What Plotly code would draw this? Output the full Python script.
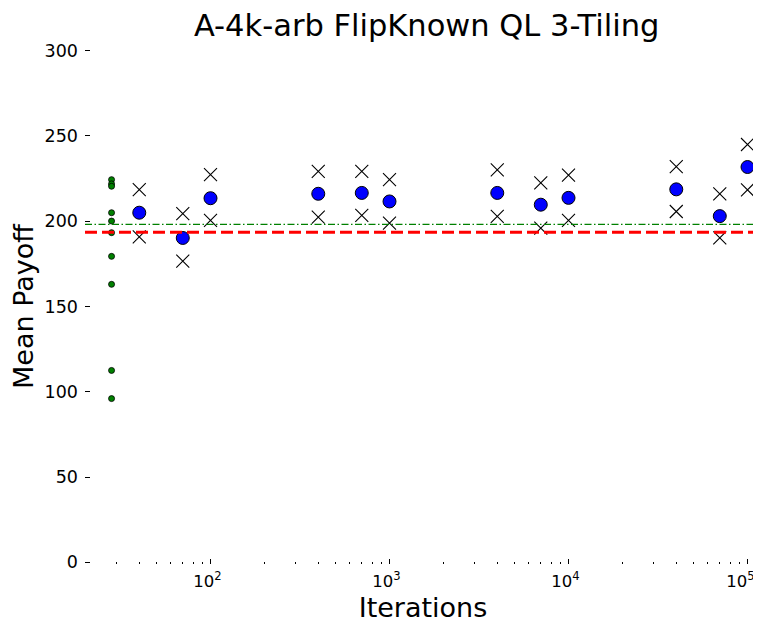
import numpy as np
import plotly.graph_objects as go

# ---- data ----
iterations = [40, 70, 100, 400, 700, 1000, 4000, 7000, 10000, 40000, 70000, 100000]
mean_payoff = [205.0, 190.2, 213.5, 216.1, 216.6, 211.6, 216.6, 209.7, 213.7, 218.7, 203.0, 231.8]
upper_payoff = [218.6, 204.4, 227.3, 229.2, 229.2, 224.4, 230.1, 222.5, 227.1, 232.0, 216.1, 245.0]
lower_payoff = [190.8, 176.6, 200.5, 202.4, 203.4, 198.9, 202.8, 196.0, 200.5, 205.7, 190.2, 218.4]

baseline_x = 28
baseline_payoffs = [224.4, 221.9, 220.5, 205.0, 200.1, 193.3, 179.4, 163.0, 112.5, 96.0]
baseline_mean = 193.5
reference_level = 198.2

x_min, x_max = 19.9, 118960
y_min, y_max = -1, 301
y_ticks = [0, 50, 100, 150, 200, 250, 300]
x_ticks = [100, 1000, 10000, 100000]
# the last label gets a trailing en space so it stays inside the window, as in the reference
x_ticktext = ["10<sup>2</sup>", "10<sup>3</sup>", "10<sup>4</sup>", "10<sup>5</sup>\u2002"]
minor_x = [d * 10 ** e for e in range(1, 5) for d in range(2, 10)]

FONT = "DejaVu Sans"

fig = go.Figure()

fig.add_trace(go.Scatter(
    x=[baseline_x] * len(baseline_payoffs), y=baseline_payoffs, mode="markers",
    marker=dict(symbol="circle", size=6, color="#008000", line=dict(color="black", width=0.8)),
    showlegend=False, hoverinfo="y"))

fig.add_trace(go.Scatter(
    x=iterations, y=upper_payoff, mode="markers",
    marker=dict(symbol="x-thin-open", size=13, color="black", line=dict(color="black", width=1.1)),
    showlegend=False))
fig.add_trace(go.Scatter(
    x=iterations, y=lower_payoff, mode="markers",
    marker=dict(symbol="x-thin-open", size=13, color="black", line=dict(color="black", width=1.1)),
    showlegend=False))
fig.add_trace(go.Scatter(
    x=iterations, y=mean_payoff, mode="markers",
    marker=dict(symbol="circle", size=13, color="#0000ff", line=dict(color="black", width=1)),
    showlegend=False))

fig.add_hline(y=reference_level, line=dict(color="#008000", width=1.2, dash="7px,2.5px,1.5px,2.5px"),
              layer="above")
fig.add_hline(y=baseline_mean, line=dict(color="#ff0000", width=3, dash="12px,5px"),
              layer="above")

# the page body adds an 8px margin, so the figure is sized to fill the rest of the window
fig.update_layout(
    width=753, height=615,
    margin=dict(l=77, r=0, t=41, b=59, pad=0),
    plot_bgcolor="white", paper_bgcolor="white",
    font=dict(family=FONT, color="black", size=17),
    title=dict(text="A-4k-arb FlipKnown QL 3-Tiling", font=dict(family=FONT, size=30.5, color="black"),
               x=0.556, xanchor="center", y=0.972, yanchor="middle", xref="container", yref="container"),
    showlegend=False,
)

fig.update_xaxes(
    type="log", range=[np.log10(x_min), np.log10(x_max)],
    showgrid=False, zeroline=False, showline=False,
    tickmode="array", tickvals=x_ticks, ticktext=x_ticktext,
    ticks="inside", ticklen=5, tickwidth=1, tickcolor="black",
    tickfont=dict(family=FONT, size=16.5, color="black"),
    ticklabelstandoff=5, ticklabelshift=-3, ticklabeloverflow="allow",
    minor=dict(tickmode="array", tickvals=minor_x, ticks="inside", ticklen=2, tickwidth=1,
               tickcolor="black", showgrid=False),
    title=dict(text="Iterations", font=dict(family=FONT, size=27, color="black"), standoff=8),
    automargin=False,
)
fig.update_yaxes(
    range=[y_min, y_max], showgrid=False, zeroline=False, showline=False,
    tickmode="array", tickvals=y_ticks,
    ticks="inside", ticklen=5, tickwidth=1, tickcolor="black",
    tickfont=dict(family=FONT, size=17.5, color="black"),
    ticklabelstandoff=6, ticklabeloverflow="allow",
    title=dict(text="Mean Payoff", font=dict(family=FONT, size=27, color="black"), standoff=6),
    automargin=False,
)

fig.write_html("out.html")
